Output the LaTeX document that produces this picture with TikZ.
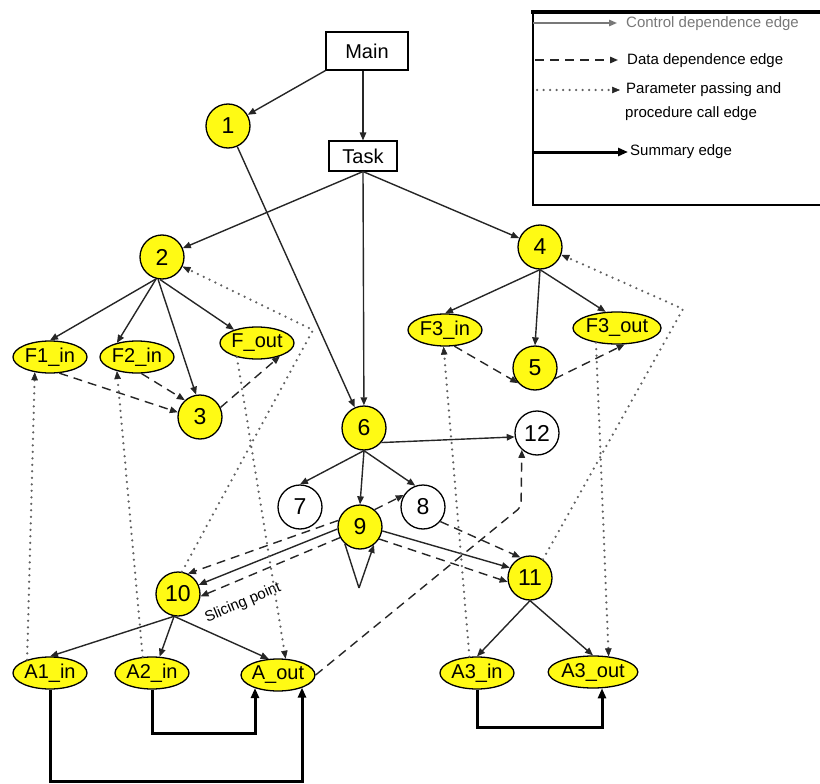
\documentclass[tikz,border=0pt]{standalone}
\usepackage{fontspec}
\setmainfont{Liberation Sans}
\usetikzlibrary{arrows.meta,shapes.geometric}
\definecolor{nodeyel}{RGB}{255,250,20}
\definecolor{ctrlgray}{RGB}{120,120,120}

\begin{document}
\begin{tikzpicture}[x=1pt,y=-1pt,
  num/.style={circle,draw=black,line width=1.3pt,fill=nodeyel,minimum size=44pt,inner sep=0pt,font=\fontsize{23}{23}\selectfont},
  hollow/.style={num,fill=white},
  port/.style={ellipse,draw=black,line width=1.3pt,fill=nodeyel,minimum width=74pt,minimum height=32pt,inner sep=0pt,font=\fontsize{20}{20}\selectfont},
  box/.style={rectangle,draw=black,line width=1.1pt,fill=white,inner sep=0pt,font=\fontsize{20}{20}\selectfont},
  ctrl/.style={draw=black!85,line width=1.4pt,-{Triangle[length=8pt,width=6.5pt]}},
  data/.style={ctrl,dash pattern=on 9pt off 6pt},
  param/.style={draw=black!62,line width=2.5pt,dash pattern=on 0pt off 6.5pt,line cap=round,-{Triangle[length=8pt,width=6.5pt,color=black!85,line width=0.5pt]}},
  summ/.style={draw=black,line width=3pt,-{Triangle[length=10pt,width=8pt]}},
  legtext/.style={anchor=west,inner sep=0pt,font=\fontsize{15}{15}\selectfont},
]
\useasboundingbox (0,0) rectangle (820,784);

% ---- legend ----
\draw[line width=4pt] (531,12) -- (824,12);
\draw[line width=1.5pt] (533,12) -- (533,205) -- (824,205);
\coordinate (lc) at (533,23);
\coordinate (ld) at (535,60);
\coordinate (lp) at (537,90);
\coordinate (ls) at (533,152);
\draw[ctrl,draw=ctrlgray] (lc) -- ++(84,0);
\draw[data] (ld) -- ++(83,0);
\draw[param] (lp) -- ++(83,0);
\draw[summ] (ls) -- ++(95,0);
\node[legtext,text=ctrlgray] (tc) at (626,24) {Control dependence edge};
\node[legtext] (td) at (627,61) {Data dependence edge};
\node[legtext] (tp1) at (626,90) {Parameter passing and};
\node[legtext] (tp2) at (625,114) {procedure call edge};
\node[legtext] (ts) at (630,152) {Summary edge};

% ---- nodes ----
\node[box,minimum width=82pt,minimum height=38pt] (Main) at (367,51) {Main};
\node[box,minimum width=68pt,minimum height=30pt] (Task) at (363,156) {Task};
\node[num] (n1) at (228,126) {1};
\node[num] (n2) at (162,257) {2};
\node[num] (n3) at (200,417) {3};
\node[num] (n4) at (540,247) {4};
\node[num] (n5) at (535,368) {5};
\node[num] (n6) at (364,428) {6};
\node[hollow] (n7) at (300,507) {7};
\node[hollow] (n8) at (423,507) {8};
\node[num] (n9) at (360,527) {9};
\node[num] (n10) at (178,594) {10};
\node[num] (n11) at (530,578) {11};
\node[hollow] (n12) at (537,433) {12};
\node[port] (F1in) at (50,357) {F1\_in};
\node[port] (F2in) at (137,357) {F2\_in};
\node[port] (Fout) at (257,343) {F\_out};
\node[port] (F3in) at (445,330) {F3\_in};
\node[port] (F3out) at (617,328) {F3\_out};
\node[port] (A1in) at (50,673) {A1\_in};
\node[port] (A2in) at (152,673) {A2\_in};
\node[port,minimum width=72pt] (Aout) at (278,675) {A\_out};
\node[port] (A3in) at (477,673) {A3\_in};
\node[port] (A3out) at (593,672) {A3\_out};
\node[rotate=23,inner sep=0pt,font=\fontsize{15}{15}\selectfont] (slice) at (243,603) {Slicing point};

% ---- control dependence edges ----
\draw[ctrl] (Main.south west) -- (n1);
\draw[ctrl] (Main.south -| Task.north) -- (Task.north);
\draw[ctrl] (Task.south) -- (n2);
\draw[ctrl] (Task.south) -- (n6);
\draw[ctrl] (Task.south) -- (n4);
\draw[ctrl] (n1) -- (n6);
\draw[ctrl] (n2.255) -- (F1in.north);
\draw[ctrl] (n2.255) -- (F2in.145);
\draw[ctrl] (n2.260) -- (n3.100);
\draw[ctrl] (n2.265) -- (Fout.150);
\draw[ctrl] (n4.south) -- (F3in.north);
\draw[ctrl] (n4.south) -- (n5.north);
\draw[ctrl] (n4.south) -- (F3out.125);
\draw[ctrl] (n6.-40) -- (n12.190);
\draw[ctrl] (n6.south) -- (n7.north);
\draw[ctrl] (n6.south) -- (n9.north);
\draw[ctrl] (n6.south) -- (n8.110);
\draw[ctrl] (n9.185) -- (n10.24);
\draw[ctrl] (n9.-10) -- (n11.153);
\draw[ctrl] (n10.-100) -- (A1in.north);
\draw[ctrl] (n10.-100) -- (A2in.65);
\draw[ctrl] (n10.-100) -- (Aout.120);
\draw[ctrl] (n11.south) -- (A3in.north);
\draw[ctrl] (n11.south) -- (A3out.north);
% loop on node 9
\coordinate (loopTip) at (359,588);
\draw[draw=black!85,line width=1.4pt] (n9.228) -- (loopTip);
\draw[ctrl] (loopTip) -- (n9.-52);

% ---- data dependence edges ----
\draw[data] (F1in.-60) -- (n3.168);
\draw[data] (F2in.-75) -- (n3.132);
\draw[data] (n3.25) -- (Fout.-30);
\draw[data] (F3in.-60) -- (n5.222);
\draw[data] (n5.-28) -- (F3out.-65);
\draw[data] (n9.50) -- (n8.148);
\draw[data] (n8.-40) -- (n11.115);
\draw[data] (n9.-32) -- (n11.190);
\draw[data] (n9.163) -- (n10.64);
\draw[data] (n9.208) -- (n10.-6);
\coordinate (turn12) at (521,507);
\draw[data,rounded corners=4pt] (Aout.east) -- (turn12) -- (n12.228);

% ---- parameter passing and call edges ----
\coordinate (call2) at (313,330);
\coordinate (call4) at (683,309);
\draw[param] (A1in.150) -- (F1in.-135);
\draw[param] (A2in.120) -- (F2in.-145);
\draw[param] (Fout.-145) -- (Aout.65);
\draw[param] (n10.80) -- (call2) -- (n2.-25);
\draw[param] (n11.55) -- (call4) -- (n4.-20);
\draw[param] (A3in.115) -- (F3in.-95);
\draw[param] (F3out.-145) -- (A3out.45);

% ---- summary edges ----
\coordinate (s1) at (302,781);
\coordinate (s2) at (255,733);
\coordinate (s3) at (602,727);
\draw[summ] (A1in.south) -- (A1in.south |- s1) -- (s1) -- (s1 |- Aout.-27);
\draw[summ] (A2in.south) -- (A2in.south |- s2) -- (s2) -- (s2 |- Aout.-151);
\draw[summ] (A3in.south) -- (A3in.south |- s3) -- (s3) -- (s3 |- A3out.-60);
\end{tikzpicture}
\end{document}
